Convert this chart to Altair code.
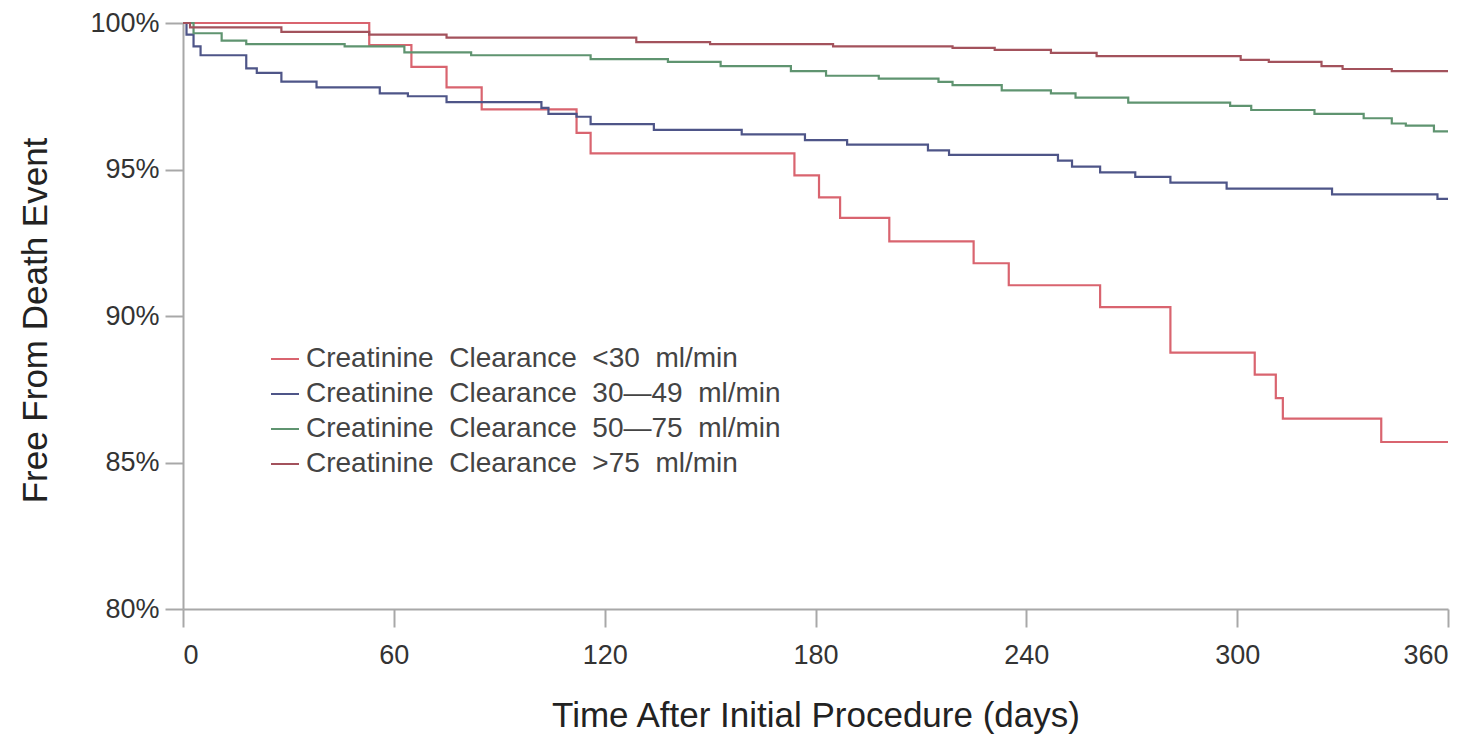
import altair as alt
import pandas as pd

# Kaplan-Meier style survival curves, one per creatinine clearance group.
# Each list gives the day a step happens and the survival (%) after it.
NB = "\u00a0\u00a0"
GROUPS = [
    f"Creatinine{NB}Clearance{NB}<30{NB}ml/min",
    f"Creatinine{NB}Clearance{NB}30\u201449{NB}ml/min",
    f"Creatinine{NB}Clearance{NB}50\u201475{NB}ml/min",
    f"Creatinine{NB}Clearance{NB}>75{NB}ml/min",
]
COLORS = ["#d9646f", "#4e5588", "#5f9470", "#a3525c"]

LT30_DAYS = [0, 53, 65, 75, 85, 112, 116, 174, 181, 187, 201, 225, 235, 261, 281, 305, 311, 313, 341]
LT30_SURV = [100, 99.25, 98.5, 97.8, 97.05, 96.25, 95.55, 94.8, 94.05, 93.35, 92.55, 91.8, 91.05, 90.3,
             88.75, 88.0, 87.2, 86.5, 85.7]

CC30_49_DAYS = [0, 1, 3, 5, 18, 21, 28, 38, 56, 64, 75, 102, 104, 112, 116, 134, 159, 177, 189, 212,
                218, 249, 253, 261, 271, 281, 297, 327, 357]
CC30_49_SURV = [100, 99.6, 99.2, 98.9, 98.45, 98.3, 98.0, 97.8, 97.6, 97.5, 97.3, 97.1, 96.9, 96.8,
                96.55, 96.35, 96.2, 96.0, 95.85, 95.65, 95.5, 95.3, 95.1, 94.9, 94.75, 94.55, 94.35,
                94.15, 94.0]

CC50_75_DAYS = [0, 3, 11, 18, 46, 63, 82, 116, 138, 153, 173, 183, 198, 215, 219, 233, 247, 254, 269,
                298, 304, 322, 336, 344, 348, 356]
CC50_75_SURV = [100, 99.65, 99.4, 99.28, 99.2, 99.0, 98.9, 98.77, 98.67, 98.53, 98.36, 98.2, 98.1,
                97.99, 97.88, 97.7, 97.6, 97.45, 97.28, 97.17, 97.03, 96.9, 96.75, 96.57, 96.5, 96.3]

GT75_DAYS = [0, 2, 28, 53, 75, 129, 150, 185, 219, 231, 247, 260, 301, 309, 324, 330, 344]
GT75_SURV = [100, 99.85, 99.7, 99.6, 99.5, 99.35, 99.28, 99.2, 99.15, 99.08, 98.98, 98.87, 98.74,
             98.67, 98.53, 98.43, 98.36]

FOLLOW_UP_END = 360
X_TICKS = [0, 60, 120, 180, 240, 300, 360]
Y_TICKS = [80, 85, 90, 95, 100]

rows = []
for name, days, surv in zip(
    GROUPS,
    [LT30_DAYS, CC30_49_DAYS, CC50_75_DAYS, GT75_DAYS],
    [LT30_SURV, CC30_49_SURV, CC50_75_SURV, GT75_SURV],
):
    for d, s in zip(days, surv):
        rows.append({"group": name, "day": d, "surv": s})
    # carry the last level to the end of follow-up
    rows.append({"group": name, "day": FOLLOW_UP_END, "surv": surv[-1]})
df = pd.DataFrame(rows)

FONT = "Liberation Sans"

chart = (
    alt.Chart(df)
    .mark_line(interpolate="step-after", strokeWidth=2.2)
    .encode(
        x=alt.X(
            "day:Q",
            scale=alt.Scale(domain=[0, FOLLOW_UP_END], nice=False, zero=False),
            axis=alt.Axis(
                values=X_TICKS,
                title="Time After Initial Procedure (days)",
                labelPadding=15,
                titleY=117,
                titleBaseline="alphabetic",
            ),
        ),
        y=alt.Y(
            "surv:Q",
            scale=alt.Scale(domain=[80, 100], nice=False, zero=False),
            axis=alt.Axis(
                values=Y_TICKS,
                labelExpr="datum.value + '%'",
                title="Free From Death Event",
                labelPadding=6,
                titleX=-148,
                titleY=297,
                titleAngle=-90,
                titleAlign="center",
                titleBaseline="middle",
            ),
        ),
        color=alt.Color(
            "group:N",
            scale=alt.Scale(domain=GROUPS, range=COLORS),
            sort=GROUPS,
            legend=alt.Legend(
                title=None,
                orient="none",
                legendX=87,
                legendY=321,
                symbolType="stroke",
                symbolSize=784,
                symbolStrokeWidth=2,
                labelFontSize=28,
                labelFont=FONT,
                labelColor="#444444",
                labelOffset=6,
                labelLimit=900,
                rowPadding=6,
                padding=0,
            ),
        ),
    )
    .properties(
        width=1265,
        height=586,
        padding={"left": 183, "top": 23, "right": 27, "bottom": 125},
        autosize=alt.AutoSizeParams(type="none"),
        background="white",
    )
    .configure_view(stroke=None)
    .configure_axis(
        grid=False,
        domainColor="#a8a8a8",
        domainWidth=2,
        tickColor="#a8a8a8",
        tickWidth=2,
        tickSize=18,
        labelFont=FONT,
        labelFontSize=27,
        labelColor="#333333",
        titleFont=FONT,
        titleFontSize=35,
        titleFontWeight="normal",
        titleColor="#222222",
    )
)

chart.save("out.html", embed_options={"renderer": "svg", "actions": False})
